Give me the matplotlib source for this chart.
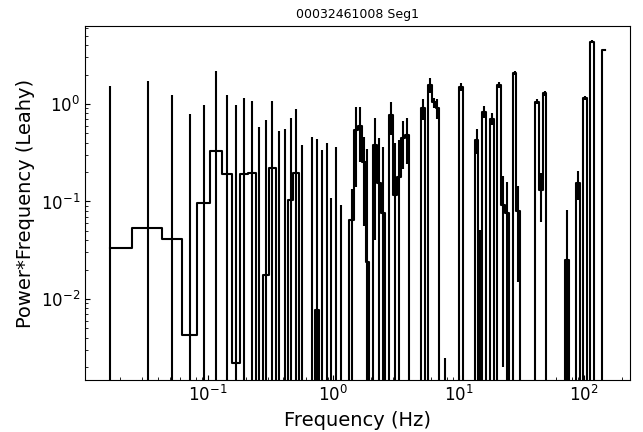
import matplotlib

matplotlib.use("Agg")
import matplotlib.pyplot as plt

# rebinned frequencies (Hz), power*frequency (Leahy) and 1-sigma errors
freq = [
    0.01647, 0.03344, 0.05194, 0.07189, 0.09292, 0.1158, 0.1409, 0.1671, 0.1946, 0.2254,
    0.2548, 0.2913, 0.3265, 0.3679, 0.4108, 0.4560, 0.5053, 0.5641, 0.6183, 0.6777,
    0.7430, 0.8054, 0.8827, 0.9605, 1.053, 1.141, 1.269, 1.404, 1.511, 1.626,
    1.750, 1.866, 1.983, 2.130, 2.304, 2.480, 2.679, 2.888, 3.102, 3.350,
    3.599, 3.873, 4.168, 4.485, 4.818, 5.166, 5.529, 5.906, 6.322, 6.766,
    7.255, 7.805, 8.385, 9.024, 9.712, 10.49, 11.23, 12.04, 12.93, 13.86,
    14.86, 15.94, 17.09, 18.32, 19.65, 21.07, 22.59, 24.22, 25.96, 27.84,
    29.85, 32.01, 34.32, 36.80, 39.37, 42.14, 45.11, 48.29, 51.76, 55.49,
    59.50, 63.79, 68.41, 73.34, 78.20, 83.41, 88.92, 94.82, 101.1, 107.8,
    115.0, 122.6, 130.7, 147.3,
]
pf = [
    0.0336, 0.054, 0.041, 0.0043, 0.096, 0.33, 0.19, 0.0022, 0.19, 0.195,
    -0.05, 0.0176, 0.222, -0.05, -0.05, 0.103, 0.198, -0.05, -0.05, -0.05,
    0.0077, -0.05, -0.05, -0.05, -0.05, -0.05, -0.05, 0.065, 0.54, 0.595,
    0.256, 0.024, -0.05, 0.38, 0.153, 0.076, -0.05, 0.77, 0.117, 0.18,
    0.445, 0.48, -0.05, -0.05, -0.05, 0.90, -0.05, 1.57, 1.04, 0.92,
    -0.05, -0.05, -0.05, -0.05, -0.05, 1.5, -0.05, -0.05, -0.05, 0.43,
    -0.05, 0.834, -0.05, 0.71, -0.05, 1.57, 0.092, 0.077, -0.05, 2.09,
    0.08, -0.05, -0.05, -0.05, -0.05, 1.06, 0.13, 1.29, -0.05, -0.05,
    -0.05, -0.05, -0.05, 0.025, -0.05, -0.05, 0.154, -0.05, 1.16, -0.05,
    4.36, -0.05, -0.05, 3.58,
]
pf_err = [
    1.51, 1.66, 1.20, 0.786, 0.884, 1.87, 1.04, 0.978, 0.95, 0.875,
    0.63, 0.667, 0.84, 0.58, 0.60, 0.61, 0.70, 0.43, 0.02, 0.505,
    0.43, 0.39, 0.445, 0.159, 0.41, 0.142, 0.02, 0.07, 0.40, 0.34,
    0.20, 0.32, 0.02, 0.34, 0.30, 0.29, 0.02, 0.29, 0.278, 0.25,
    0.23, 0.24, 0.02, 0.02, 0.02, 0.22, 0.02, 0.27, 0.12, 0.21,
    0.02, 0.0525, 0.02, 0.02, 0.02, 0.13, 0.02, 0.02, 0.02, 0.12,
    0.101, 0.11, 0.02, 0.10, 0.02, 0.10, 0.09, 0.08, 0.02, 0.10,
    0.065, 0.02, 0.02, 0.02, 0.02, 0.07, 0.068, 0.07, 0.02, 0.02,
    0.02, 0.02, 0.02, 0.057, 0.02, 0.02, 0.05, 0.02, 0.06, 0.02,
    0.15, 0.02, 0.02, 0.10,
]

plt.rcParams["xtick.direction"] = "in"
plt.rcParams["ytick.direction"] = "in"

fig = plt.figure(figsize=(6.43, 4.32), dpi=100)
ax = fig.add_axes([0.1322, 0.1204, 0.8476, 0.8194])
ax.set_xscale("log")
ax.set_yscale("log")
ax.errorbar(freq, pf, yerr=pf_err, drawstyle="steps-mid", color="k", lw=1.5, elinewidth=1.5)
ax.set_ylim(0.001476, 6.31)
ax.set_xlabel("Frequency (Hz)", fontsize=14)
ax.set_ylabel("Power*Frequency (Leahy)", fontsize=14)
ax.set_title("00032461008 Seg1", fontsize=9)
ax.tick_params(labelsize=12)
fig.savefig("out.png")
